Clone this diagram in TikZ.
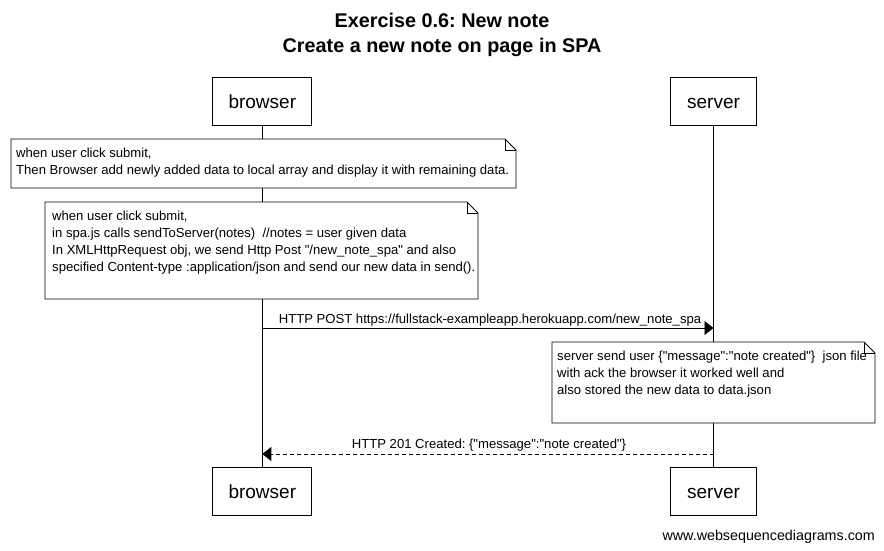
\documentclass[tikz,border=0pt]{standalone}
\usepackage{fontspec}
\setmainfont{Liberation Sans}[Ligatures=TeXOff]
\usetikzlibrary{arrows.meta}
\frenchspacing
\begin{document}
\begin{tikzpicture}[x=1pt,y=-1pt,
  actor/.style={draw,line width=0.8pt,minimum height=48pt,inner sep=0pt,text height=16pt,text depth=2pt,font=\fontsize{19}{22}\selectfont},
  notetext/.style={anchor=north west,align=left,inner sep=0pt,font=\fontsize{13.1}{17}\selectfont},
  msg/.style={font=\fontsize{13.1}{15}\selectfont,anchor=base,inner sep=0pt},
  life/.style={line width=0.8pt},
  tip/.style={-{Triangle[length=9pt,width=14pt]}}
]
\useasboundingbox (0,0) rectangle (884,551);
\node[font=\bfseries\fontsize{19.8}{24}\selectfont,anchor=base] (title) at (442,28) {Exercise 0.6: New note};
\node[font=\bfseries\fontsize{19.8}{24}\selectfont,anchor=base] (title2) at (442,53) {Create a new note on page in SPA};

\node[actor,minimum width=99pt] (b1) at (262.3,101.5) {browser};
\node[actor,minimum width=86pt] (s1) at (713.5,101.5) {server};
\node[actor,minimum width=99pt] (b2) at (262.3,491) {browser};
\node[actor,minimum width=86pt] (s2) at (713.5,491) {server};
\draw[life] (b1.south) -- (b2.north);
\draw[life] (s1.south) -- (s2.north);

% note 1
\filldraw[fill=white,line width=0.8pt] (11,139) -- (505,139) -- (516,150) -- (516,188) -- (11,188) -- cycle;
\draw[line width=0.6pt] (505,139) -- (505,150) -- (516,150);
\node[notetext] (n1) at (16,148) {when user click submit,\\Then Browser add newly added data to local array and display it with remaining data.};

% note 2
\filldraw[fill=white,line width=0.8pt] (45,202) -- (467,202) -- (478,213) -- (478,299) -- (45,299) -- cycle;
\draw[line width=0.6pt] (467,202) -- (467,213) -- (478,213);
\node[notetext] (n2) at (52,211) {when user click submit,\\in spa.js calls sendToServer(notes)\ \ //notes = user given data\\In XMLHttpRequest obj, we send Http Post "/new\_note\_spa" and also\\specified Content-type :application/json and send our new data in send().};

% message 1
\coordinate (m1a) at (263,328);
\coordinate (m1b) at (713,328);
\draw[life,tip] (b1.south |- m1a) -- (s1.south |- m1b);
\node[msg] (l1) at (490,323) {HTTP POST https://fullstack-exampleapp.herokuapp.com/new\_note\_spa};

% note 3
\filldraw[fill=white,line width=0.8pt] (552,342) -- (864,342) -- (875,353) -- (875,423) -- (552,423) -- cycle;
\draw[line width=0.6pt] (864,342) -- (864,353) -- (875,353);
\node[notetext] (n3) at (557,351) {server send user \{"message":"note created"\}\ \ json file\\with ack the browser it worked well and\\also stored the new data to data.json};

% message 2
\coordinate (m2a) at (713,454);
\coordinate (m2b) at (263,454);
\draw[life,dashed,dash pattern=on 4pt off 3pt,tip] (s1.south |- m2a) -- (b1.south |- m2b);
\node[msg] (l2) at (489,448) {HTTP 201 Created: \{"message":"note created"\}};

\node[font=\fontsize{14.3}{17}\selectfont,anchor=base east,inner sep=0pt] (wsd) at (875,540) {www.websequencediagrams.com};
\end{tikzpicture}
\end{document}
